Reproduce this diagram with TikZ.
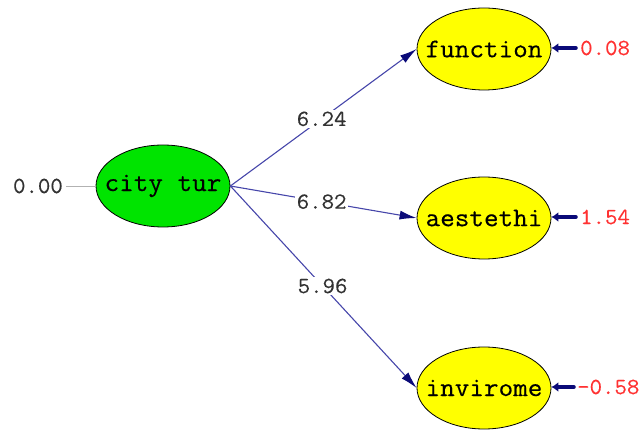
\documentclass[tikz,border=0pt]{standalone}
\usepackage{fontspec}
\newfontfamily\courlike[FakeStretch=1.05,FakeBold=0.35]{Latin Modern Mono}
\usetikzlibrary{shapes.geometric,arrows.meta}
\definecolor{nodegreen}{RGB}{0,228,0}
\definecolor{nodeyellow}{RGB}{255,255,0}
\definecolor{pathblue}{RGB}{70,70,170}
\definecolor{headnavy}{RGB}{10,10,120}
\definecolor{errred}{RGB}{255,50,50}
\definecolor{lblgray}{RGB}{50,50,50}
\tikzset{
  latent/.style={ellipse, draw=black, line width=0.8pt, minimum width=134pt, minimum height=82pt, inner sep=0pt},
  nodetext/.style={font=\courlike\fontsize{27}{29}\selectfont, text=black},
  pathline/.style={draw=pathblue, line width=1.1pt, -{Latex[length=17pt,width=9pt,fill=headnavy,color=headnavy]}},
  errline/.style={draw=headnavy, line width=3.5pt, line cap=round, -{Latex[length=7pt,width=10pt]}},
  coef/.style={fill=white, inner sep=1.5pt, text=lblgray, font=\courlike\fontsize{23}{25}\selectfont},
  errlbl/.style={anchor=west, inner sep=0pt, text=errred, font=\courlike\fontsize{23}{25}\selectfont},
  varlbl/.style={anchor=east, inner sep=0pt, text=lblgray, font=\courlike\fontsize{23}{25}\selectfont}
}
\begin{document}
\begin{tikzpicture}[x=1pt,y=-1pt]
\useasboundingbox (0,0) rectangle (643,430);
% latent variables
\node[latent, fill=nodegreen, label={[nodetext]center:city tur}] (city) at (163,186) {};
\node[latent, fill=nodeyellow, label={[nodetext]center:function}] (func) at (484,49) {};
\node[latent, fill=nodeyellow, label={[nodetext]center:aestethi}] (aes) at (484,218) {};
\node[latent, fill=nodeyellow, label={[nodetext]center:invirome}] (inv) at (484,388) {};
% variance of city tur
\node[varlbl] (v0) at (63,186) {0.00};
\draw[draw=gray!60, line width=0.9pt] (v0.east) ++(3,0) coordinate (v0s) (v0s) -- (city.west);
% paths
\draw[pathline] (city.east) -- node[coef, pos=0.49] (l1) {6.24} (func.west);
\draw[pathline] (city.east) -- node[coef, pos=0.49] (l2) {6.82} (aes.west);
\draw[pathline] (city.east) -- node[coef, pos=0.495] (l3) {5.96} (inv.west);
% error terms
\coordinate (e1) at (576,48);
\coordinate (e2) at (576,217);
\coordinate (e3) at (574,387);
\draw[errline] (e1) -- (e1 -| func.east);
\draw[errline] (e2) -- (e2 -| aes.east);
\draw[errline] (e3) -- (e3 -| inv.east);
\node[errlbl] (r1) at (580,48) {0.08};
\node[errlbl] (r2) at (580,217) {1.54};
\node[errlbl] (r3) at (577,387) {-0.58};
\end{tikzpicture}
\end{document}
